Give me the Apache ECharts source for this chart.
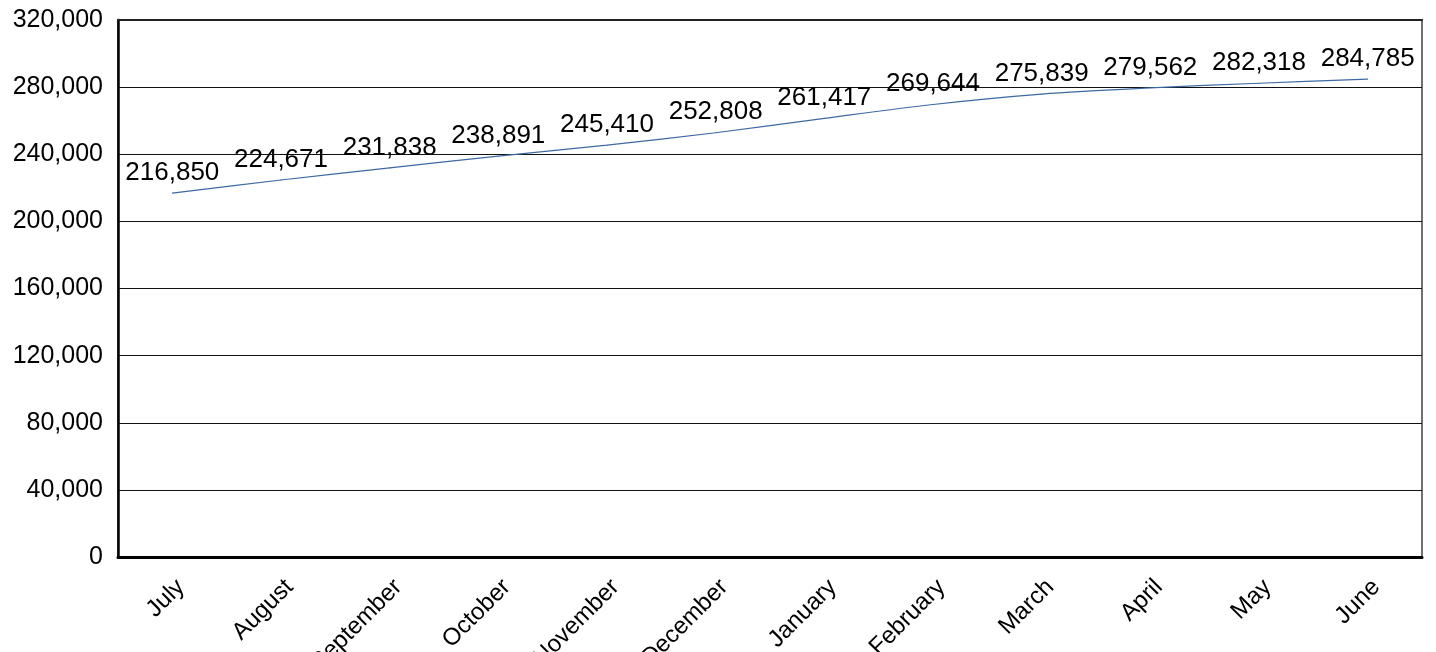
<!DOCTYPE html>
<html>
<head>
<meta charset="utf-8">
<script src="https://cdn.jsdelivr.net/npm/echarts@6/dist/echarts.min.js"></script>
<style>
  html, body { margin: 0; padding: 0; background: #fff; }
  #chart { width: 1436px; height: 652px; }
</style>
</head>
<body>
<div id="chart"></div>
<script>
// Monthly totals, July through June
const months = ['July', 'August', 'September', 'October', 'November', 'December',
                'January', 'February', 'March', 'April', 'May', 'June'];
const totals = [216850, 224671, 231838, 238891, 245410, 252808,
                261417, 269644, 275839, 279562, 282318, 284785];
const yMin = 0;
const yMax = 320000;
const yStep = 40000;

const fmt = v => v.toLocaleString('en-US');
const font = 'Liberation Sans, Arial, sans-serif';

const chart = echarts.init(document.getElementById('chart'), null, { renderer: 'canvas' });
chart.setOption({
  animation: false,
  backgroundColor: '#ffffff',
  grid: {
    left: 118, right: 14, top: 20, bottom: 95,
    outerBoundsMode: 'none',
    containLabel: false,
    show: true,
    borderColor: '#707070',
    borderWidth: 2
  },
  xAxis: [{
    type: 'category',
    data: months,
    boundaryGap: true,
    axisLine: { show: true, lineStyle: { color: '#000', width: 3 } },
    axisTick: { show: false },
    axisLabel: {
      rotate: 45,
      margin: 18,
      verticalAlign: 'top',
      fontSize: 24,
      fontFamily: font,
      color: '#000',
      interval: 0,
      hideOverlap: false
    },
    splitLine: { show: false }
  }, {
    // dark top edge of the plot frame
    type: 'category',
    position: 'top',
    data: months,
    boundaryGap: true,
    axisLine: { show: true, lineStyle: { color: '#222', width: 2 } },
    axisTick: { show: false },
    axisLabel: { show: false },
    splitLine: { show: false }
  }],
  yAxis: {
    type: 'value',
    min: yMin,
    max: yMax,
    interval: yStep,
    axisLine: { show: true, lineStyle: { color: '#000', width: 2.5 } },
    axisTick: { show: false },
    axisLabel: {
      margin: 15,
      fontSize: 25,
      fontFamily: font,
      color: '#000',
      padding: [3, 0, 0, 0],
      formatter: v => fmt(v)
    },
    splitLine: { show: true, lineStyle: { color: '#111', width: 1 } }
  },
  series: [{
    type: 'line',
    data: totals,
    smooth: 0.3,
    symbol: 'circle',
    symbolSize: 1,
    showSymbol: true,
    itemStyle: { color: '#3d6aa3' },
    lineStyle: { color: '#3d6aa3', width: 1.2 },
    label: {
      show: true,
      position: 'top',
      distance: 7,
      fontSize: 26,
      fontFamily: font,
      color: '#000',
      formatter: p => fmt(p.value)
    },
    labelLayout: { hideOverlap: false }
  }]
});
</script>
</body>
</html>
